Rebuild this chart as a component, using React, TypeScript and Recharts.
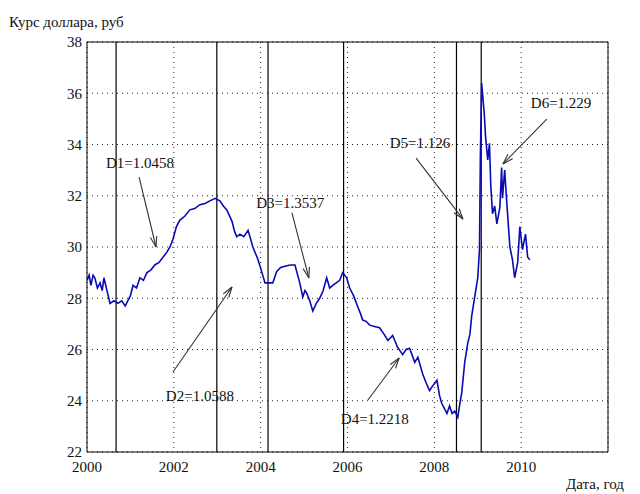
import React from 'react';
import { LineChart, Line, XAxis, YAxis, CartesianGrid, ReferenceLine, ReferenceDot } from 'recharts';

// Курс доллара: time in fractional years, rate in roubles
const years = [
  2000.00, 2000.05, 2000.09, 2000.14, 2000.18, 2000.24, 2000.30, 2000.35, 2000.39, 2000.46, 2000.53, 2000.62,
  2000.71, 2000.80, 2000.88, 2000.94, 2001.00, 2001.06, 2001.14, 2001.22, 2001.30, 2001.38, 2001.47, 2001.56,
  2001.66, 2001.75, 2001.84, 2001.91, 2001.98, 2002.06, 2002.14, 2002.25, 2002.37, 2002.48, 2002.60, 2002.72,
  2002.83, 2002.95, 2003.06, 2003.14, 2003.22, 2003.34, 2003.40, 2003.45, 2003.52, 2003.61, 2003.71, 2003.82,
  2003.94, 2004.03, 2004.10, 2004.20, 2004.28, 2004.37, 2004.46, 2004.56, 2004.68, 2004.79, 2004.90, 2004.97,
  2005.02, 2005.06, 2005.13, 2005.20, 2005.28, 2005.36, 2005.44, 2005.52, 2005.59, 2005.66, 2005.74, 2005.82,
  2005.89, 2005.98, 2006.05, 2006.14, 2006.24, 2006.30, 2006.35, 2006.43, 2006.51, 2006.62, 2006.74, 2006.84,
  2006.93, 2007.04, 2007.15, 2007.27, 2007.35, 2007.43, 2007.55, 2007.62, 2007.73, 2007.81, 2007.89, 2007.97,
  2008.06, 2008.12, 2008.17, 2008.23, 2008.29, 2008.35, 2008.41, 2008.47, 2008.54, 2008.58, 2008.63, 2008.70,
  2008.77, 2008.82, 2008.86, 2008.93, 2009.00, 2009.04, 2009.06, 2009.09, 2009.11, 2009.15, 2009.18, 2009.23,
  2009.27, 2009.30, 2009.34, 2009.39, 2009.44, 2009.51, 2009.55, 2009.57, 2009.62, 2009.67, 2009.74, 2009.80,
  2009.85, 2009.92, 2009.97, 2010.03, 2010.10, 2010.15, 2010.20,
];
const usdRate = [
  28.7, 28.9, 28.5, 28.9, 28.8, 28.4, 28.6, 28.3, 28.8, 28.3, 27.8, 27.9,
  27.8, 27.9, 27.7, 27.9, 28.1, 28.5, 28.4, 28.8, 28.7, 29.0, 29.1, 29.3,
  29.4, 29.6, 29.8, 30.0, 30.3, 30.8, 31.05, 31.2, 31.45, 31.5, 31.65, 31.7,
  31.8, 31.9, 31.8, 31.6, 31.45, 31.0, 30.6, 30.4, 30.5, 30.4, 30.65, 30.0,
  29.5, 29.0, 28.6, 28.6, 28.6, 29.05, 29.2, 29.25, 29.3, 29.3, 28.6, 28.05,
  28.3, 28.2, 27.9, 27.5, 27.8, 28.0, 28.3, 28.8, 28.4, 28.5, 28.6, 28.7,
  29.0, 28.8, 28.4, 28.1, 27.65, 27.4, 27.15, 27.1, 26.95, 26.9, 26.85, 26.6,
  26.35, 26.55, 26.1, 25.8, 26.0, 26.05, 25.5, 25.7, 25.05, 24.7, 24.4, 24.6,
  24.8, 24.2, 23.9, 23.7, 23.5, 23.8, 23.5, 23.6, 23.35, 23.8, 24.3, 25.5,
  26.25, 26.6, 27.3, 28.05, 28.8, 29.9, 33.5, 36.4, 36.0, 35.2, 34.3, 33.4,
  34.05, 32.4, 31.3, 31.6, 30.9, 31.55, 33.1, 31.9, 33.0, 31.7, 30.0, 29.5,
  28.8, 29.4, 30.8, 29.9, 30.5, 29.6, 29.5,
];

const xTicks = [2000, 2002, 2004, 2006, 2008, 2010];
const yTicks = [22, 24, 26, 28, 30, 32, 34, 36, 38];

// segment boundaries (solid vertical lines)
const breakDates = [2000.67, 2002.99, 2004.17, 2005.91, 2008.51, 2009.08];

// fractal dimension labels for each segment
const segmentLabels = ['D1=1.0458', 'D2=1.0588', 'D3=1.3537', 'D4=1.2218', 'D5=1.126', 'D6=1.229'];

// annotation layout in data units: text anchor, arrow tail, arrow head
const labelAnchors = [
  { x: 2001.22, y: 33.1 },
  { x: 2002.6, y: 24.0 },
  { x: 2004.68, y: 31.52 },
  { x: 2006.63, y: 23.1 },
  { x: 2007.67, y: 33.86 },
  { x: 2010.92, y: 35.42 },
];
const arrowTails = [
  { x: 2001.2, y: 32.73 },
  { x: 2001.98, y: 25.12 },
  { x: 2004.72, y: 31.33 },
  { x: 2006.47, y: 24.03 },
  { x: 2007.58, y: 33.47 },
  { x: 2010.59, y: 34.99 },
];
const arrowHeads = [
  { x: 2001.59, y: 30.0 },
  { x: 2003.34, y: 28.44 },
  { x: 2005.11, y: 28.79 },
  { x: 2007.19, y: 25.67 },
  { x: 2008.66, y: 31.09 },
  { x: 2009.58, y: 33.24 },
];

const data = years.map((t, i) => ({ t, v: usdRate[i] }));

const FONT = "'Liberation Serif', 'Times New Roman', Times, 'DejaVu Serif', serif";

const Arrow = (props: any) => {
  const { x1, y1, x2, y2 } = props;
  const ang = Math.atan2(y2 - y1, x2 - x1);
  const len = 11;
  const spread = 0.3;
  const ax = x2 - len * Math.cos(ang - spread);
  const ay = y2 - len * Math.sin(ang - spread);
  const bx = x2 - len * Math.cos(ang + spread);
  const by = y2 - len * Math.sin(ang + spread);
  return (
    <g stroke="#333" strokeWidth={1.1} fill="none">
      <line x1={x1} y1={y1} x2={x2} y2={y2} />
      <line x1={x2} y1={y2} x2={ax} y2={ay} />
      <line x1={x2} y1={y2} x2={bx} y2={by} />
    </g>
  );
};

const makeLabel = (text: string) => (p: any) => (
  <text x={p.cx} y={p.cy} textAnchor="middle" style={{ fontFamily: FONT, fontSize: 15 }} fill="#111">
    {text}
  </text>
);

const tickStyle = { fill: '#111', fontSize: 15, style: { fontFamily: FONT } } as any;

export default function App() {
  return (
    <div style={{ position: 'absolute', left: 0, top: 0, width: 640, height: 494, background: '#fff', fontFamily: FONT }}>
      <div style={{ position: 'absolute', left: 9, top: 14, fontSize: 15, color: '#111' }}>
        Курс доллара, руб
      </div>
      <div style={{ position: 'absolute', left: 566, top: 476, fontSize: 15, color: '#111' }}>
        Дата, год
      </div>
      <LineChart width={640} height={494} data={data} margin={{ top: 42, right: 32, left: 27, bottom: 12 }}>
        <CartesianGrid stroke="#222" strokeDasharray="1 4" />
        <XAxis
          dataKey="t"
          type="number"
          domain={[2000, 2012]}
          ticks={xTicks}
          height={30}
          tickSize={0}
          tickMargin={9}
          stroke="#000"
          tick={tickStyle}
          allowDataOverflow
        />
        <YAxis
          type="number"
          domain={[22, 38]}
          ticks={yTicks}
          width={60}
          tickSize={0}
          tickMargin={5}
          stroke="#000"
          tick={tickStyle}
          allowDataOverflow
        />
        <ReferenceLine y={38} stroke="#000" />
        <ReferenceLine x={2012} stroke="#000" />
        {breakDates.map((d) => (
          <ReferenceLine key={d} x={d} stroke="#000" strokeWidth={1.2} />
        ))}
        <Line
          type="linear"
          dataKey="v"
          stroke="#0a0ab4"
          strokeWidth={1.6}
          dot={false}
          isAnimationActive={false}
        />
        {segmentLabels.map((lab, i) => (
          <ReferenceLine
            key={'a' + i}
            segment={[arrowTails[i], arrowHeads[i]]}
            ifOverflow="visible"
            shape={Arrow}
          />
        ))}
        {segmentLabels.map((lab, i) => (
          <ReferenceDot
            key={'l' + i}
            x={labelAnchors[i].x}
            y={labelAnchors[i].y}
            r={0}
            ifOverflow="visible"
            shape={makeLabel(lab)}
          />
        ))}
      </LineChart>
    </div>
  );
}
